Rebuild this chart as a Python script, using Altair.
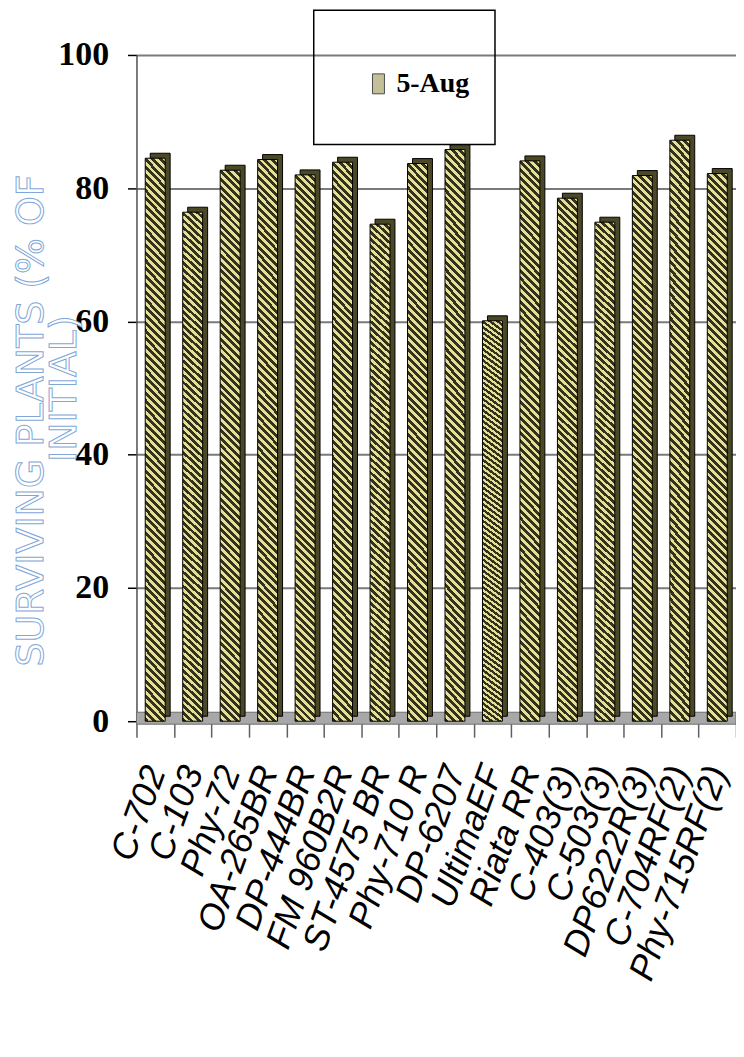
import altair as alt
import pandas as pd

# ---- data ----
categories = ["C-702", "C-103", "Phy-72", "OA-265BR", "DP-444BR", "FM 960B2R",
              "ST-4575 BR", "Phy-710 R", "DP-6207", "UltimaEF", "Riata RR",
              "C-403(3)", "C-503(3)", "DP6222R(3)", "C-704RF(2)", "Phy-715RF(2)"]
surviving = [84.5, 76.4, 82.7, 84.3, 82.0, 83.9, 74.6, 83.7, 85.8, 60.1, 84.1,
             78.5, 74.9, 81.9, 87.2, 82.2]
series_name = "5-Aug"
y_ticks = [0, 20, 40, 60, 80, 100]
title_line1 = "SURVIVING PLANTS (% OF"
title_line2 = "INITIAL)"

df = pd.DataFrame({"variety": categories, "surviving": surviving,
                   "series": [series_name] * len(categories)})

W, H = 602, 669

# hatch fill (diagonal stripes) built as a linear gradient
light, dark = "#e6df98", "#33321c"
n_cycles = 75
dark_frac = 0.52
stops = []
for i in range(n_cycles):
    o0 = i / n_cycles
    om = (i + dark_frac) / n_cycles
    o1 = (i + 1) / n_cycles
    stops += [{"offset": o0, "color": dark}, {"offset": om, "color": dark},
              {"offset": om, "color": light}, {"offset": o1, "color": light}]
hatch = {"gradient": "linear", "x1": 0, "y1": 1, "x2": 0.0376, "y2": -0.035,
         "stops": stops}

x_enc = alt.X("variety:N", sort=categories,
              scale=alt.Scale(paddingInner=0, paddingOuter=0),
              axis=alt.Axis(title=None, labelAngle=-70, labelFont="Liberation Sans",
                            labelFontStyle="italic", labelFontSize=36,
                            labelColor="black", labelPadding=30, labelLimit=500,
                            labelOverlap=False, tickBand="extent", tickSize=16,
                            tickColor="#606060", tickWidth=1.5,
                            domainColor="#707070", domainWidth=2))
y_enc = alt.Y("surviving:Q", scale=alt.Scale(domain=[0, 100], nice=False),
              axis=alt.Axis(title=None, values=y_ticks, labelFont="Liberation Serif",
                            labelFontWeight="bold", labelFontSize=34,
                            labelColor="black", labelPadding=19, tickSize=9,
                            tickColor="black", tickWidth=1.5,
                            domainColor="#505050", domainWidth=1.5,
                            grid=True, gridColor="#7a7a7a", gridWidth=2))

floor = alt.Chart(pd.DataFrame({"f": [0]})).mark_rect(
    fill="#a8a8a8", stroke="#6e6e6e", strokeWidth=1
).encode(x=alt.value(0), x2=alt.value(W), y=alt.value(H - 9), y2=alt.value(H + 3))

back = alt.Chart(df).mark_bar(
    width=20, xOffset=5, yOffset=-5, fill="#4a4826", stroke="black", strokeWidth=1
).encode(x=x_enc, y=y_enc)

front = alt.Chart(df).mark_bar(
    width=20, fill=hatch, stroke="black", strokeWidth=1
).encode(x=x_enc, y=y_enc)

# invisible marks that only carry the legend entry
legend_carrier = alt.Chart(df).mark_square(size=0, filled=True).encode(
    x=x_enc, y=y_enc,
    color=alt.Color("series:N", scale=alt.Scale(range=["#aaa56a"]),
                    legend=alt.Legend(title=None, orient="none", legendX=229,
                                      legendY=15, padding=0,
                                      symbolType="M-0.6,-1H0.6V1H-0.6Z",
                                      symbolSize=400, symbolStrokeColor="black",
                                      symbolStrokeWidth=1,
                                      labelFont="Liberation Serif",
                                      labelFontWeight="bold", labelFontSize=28,
                                      labelColor="black", labelOffset=4))
)

legend_box = alt.Chart(pd.DataFrame({"b": [0]})).mark_rect(
    fill="transparent", stroke="black", strokeWidth=1.5
).encode(x=alt.value(178), x2=alt.value(360), y=alt.value(-45), y2=alt.value(90))

t1 = alt.Chart(pd.DataFrame({"t": [title_line1]})).mark_text(
    angle=270, font="DejaVu Sans", fontSize=38, fill="white", stroke="#7fa8d8",
    strokeWidth=1, align="center", baseline="middle"
).encode(text="t:N", x=alt.value(32 - 137), y=alt.value(420 - 53))

t2 = alt.Chart(pd.DataFrame({"t": [title_line2]})).mark_text(
    angle=270, font="DejaVu Sans", fontSize=38, fill="white", stroke="#7fa8d8",
    strokeWidth=1, align="center", baseline="middle"
).encode(text="t:N", x=alt.value(65 - 137), y=alt.value(388 - 53))

chart = alt.layer(floor, back, front, legend_carrier, legend_box, t1, t2).properties(
    width=W, height=H,
    padding={"left": 129, "top": 45, "right": 0, "bottom": 330},
    autosize=alt.AutoSizeParams(type="none"),
    background="white",
).configure_view(stroke=None)

chart.save("out.html", embed_options={"renderer": "svg", "actions": False})
